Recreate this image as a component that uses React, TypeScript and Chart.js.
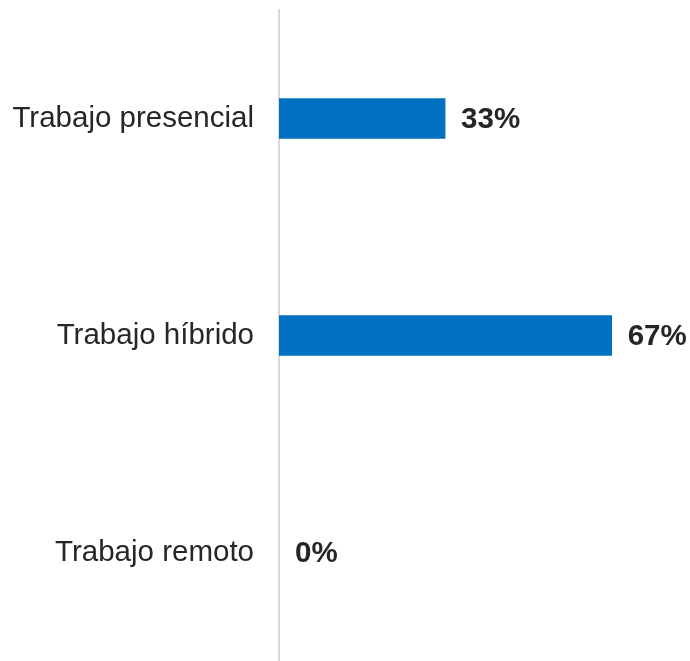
import React, { useEffect, useRef } from "react";
import { Chart, registerables } from "chart.js";

Chart.register(...registerables);

const categories = ["Trabajo presencial", "Trabajo híbrido", "Trabajo remoto"];
const values = [33.3, 66.7, 0];
const valueLabels = ["33%", "67%", "0%"];

const FONT = "'Liberation Sans', Arial, Helvetica, sans-serif";
const TEXT = "#262626";

const valueLabelPlugin = {
  id: "valueLabels",
  afterDatasetsDraw(chart: any) {
    const { ctx } = chart;
    const xs = chart.scales.x;
    const ys = chart.scales.y;
    ctx.save();
    ctx.font = `bold 29.5px ${FONT}`;
    ctx.fillStyle = TEXT;
    ctx.textAlign = "left";
    ctx.textBaseline = "middle";
    values.forEach((v, i) => {
      ctx.fillText(valueLabels[i], xs.getPixelForValue(v) + 16, ys.getPixelForValue(i) + 1);
    });
    ctx.restore();
  },
};

export default function App() {
  const ref = useRef<HTMLCanvasElement | null>(null);
  useEffect(() => {
    document.body.style.margin = "0";
    const chart = new Chart(ref.current as HTMLCanvasElement, {
      type: "bar",
      data: {
        labels: categories,
        datasets: [
          {
            data: values.map((v) => (v === 0 ? null : v)),
            backgroundColor: "#0070C0",
            borderWidth: 0,
            barThickness: 40,
          },
        ],
      },
      options: {
        indexAxis: "y",
        animation: false,
        responsive: false,
        maintainAspectRatio: false,
        layout: { padding: { top: 10, bottom: 0, left: 0, right: 0 } },
        plugins: {
          legend: { display: false },
          tooltip: { enabled: false },
        },
        scales: {
          x: {
            display: false,
            min: 0,
            max: 82.4,
          },
          y: {
            afterFit: (scale: any) => {
              scale.width = 279;
              scale.paddingTop = 0;
              scale.paddingBottom = 0;
            },
            grid: { display: false, drawTicks: false },
            border: { display: true, color: "#d9d9d9", width: 2 },
            ticks: {
              padding: 25,
              color: TEXT,
              font: { family: FONT, size: 29.5 },
            },
          },
        },
      },
      plugins: [valueLabelPlugin],
    } as any);
    return () => chart.destroy();
  }, []);
  return (
    <div style={{ width: 690, height: 661 }}>
      <canvas ref={ref} width={690} height={661} style={{ display: "block" }} />
    </div>
  );
}
